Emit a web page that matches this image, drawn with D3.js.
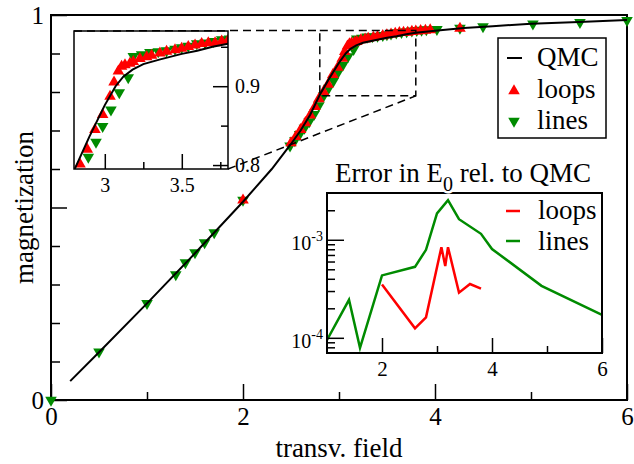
<!DOCTYPE html>
<html>
<head>
<meta charset="utf-8">
<script src="https://cdn.jsdelivr.net/npm/d3@7"></script>
<style>
body { margin: 0; background: #fff; }
svg text { font-family: "Liberation Serif", "DejaVu Serif", serif; fill: #000; }
</style>
</head>
<body>
<div id="chart"></div>
<script>

// QMC curve: magnetization vs transverse field
var qmcField = [0.2, 0.5, 1.0, 1.5, 2.0, 2.3, 2.5, 2.6, 2.7, 2.8, 2.9, 3.0, 3.07, 3.12, 3.18, 3.25, 3.36, 3.5, 3.6, 3.7, 3.8, 4.0, 4.3, 4.6, 5.0, 5.5, 6.0];
var qmcMag = [0.049, 0.124, 0.251, 0.381, 0.515, 0.600, 0.665, 0.700, 0.741, 0.793, 0.836, 0.876, 0.900, 0.912, 0.921, 0.928, 0.934, 0.941, 0.945, 0.950, 0.954, 0.959, 0.966, 0.971, 0.977, 0.982, 0.987];

// loops (red, up triangles)
var loopsField = [2.0, 2.5, 2.55, 2.6, 2.65, 2.7, 2.75, 2.79, 2.839, 2.886, 2.936, 2.986, 3.034, 3.06, 3.088, 3.109, 3.131, 3.163, 3.185, 3.228, 3.272, 3.304, 3.358, 3.401, 3.456, 3.499, 3.542, 3.586, 3.629, 3.672, 3.716, 3.759, 3.8, 3.85, 3.9, 3.95, 4.26];
var loopsMag = [0.519, 0.668, 0.684, 0.702, 0.72, 0.74, 0.762, 0.782, 0.801, 0.82, 0.845, 0.864, 0.887, 0.905, 0.919, 0.925, 0.927, 0.929, 0.931, 0.935, 0.937, 0.939, 0.942, 0.944, 0.946, 0.948, 0.95, 0.952, 0.954, 0.955, 0.955, 0.957, 0.958, 0.959, 0.96, 0.961, 0.965];

// lines (green, down triangles)
var linesField = [0, 0.5, 1.0, 1.3, 1.4, 1.5, 1.6, 1.7, 2.0, 2.49, 2.54, 2.59, 2.64, 2.69, 2.74, 2.79, 2.84, 2.893, 2.943, 2.986, 3.04, 3.094, 3.152, 3.185, 3.239, 3.293, 3.347, 3.401, 3.456, 3.499, 3.542, 3.597, 3.651, 3.705, 3.759, 3.81, 3.86, 3.91, 4.02, 4.26, 4.5, 5.02, 5.51, 6.0];
var linesMag = [0, 0.125, 0.251, 0.326, 0.357, 0.383, 0.409, 0.435, 0.519, 0.660, 0.674, 0.690, 0.706, 0.723, 0.742, 0.765, 0.79, 0.81, 0.829, 0.849, 0.87, 0.892, 0.911, 0.938, 0.94, 0.943, 0.944, 0.945, 0.947, 0.949, 0.951, 0.954, 0.955, 0.957, 0.959, 0.960, 0.961, 0.962, 0.963, 0.966, 0.970, 0.977, 0.981, 0.986];

// error in E0 relative to QMC
var errLinesField = [1.0, 1.4, 1.6, 2.0, 2.6, 2.8, 3.0, 3.2, 3.4, 3.8, 4.0, 4.9, 6.0];
var errLines = [9.5e-5, 2.44e-4, 7.9e-5, 4.33e-4, 5.3e-4, 7.9e-4, 1.86e-3, 2.54e-3, 1.62e-3, 1.15e-3, 8.05e-4, 3.39e-4, 1.71e-4];
var errLoopsField = [2.0, 2.6, 2.8, 3.08, 3.15, 3.2, 3.4, 3.6, 3.8];
var errLoops = [3.5e-4, 1.25e-4, 1.62e-4, 8.4e-4, 5.4e-4, 8.4e-4, 2.89e-4, 3.54e-4, 3.18e-4];

var red = "#ff0000", green = "#008b00";
var width = 634, height = 464;

var svg = d3.select("#chart").append("svg")
    .attr("width", width)
    .attr("height", height);

function zip(a, b) { return a.map(function (v, i) { return [v, b[i]]; }); }

function styleAxis(g, size) {
    g.attr("font-family", null).attr("font-size", size);
    g.select(".domain").remove();
    g.selectAll(".tick line").attr("stroke", "#000").attr("stroke-width", 1.5);
}

var up = d3.symbol().type(d3.symbolTriangle).size(58);

function drawMarkers(g, data, sx, sy, color, flip) {
    g.selectAll(null).data(data).enter().append("path")
        .attr("d", up)
        .attr("fill", color)
        .attr("transform", function (d) {
            return "translate(" + sx(d[0]) + "," + sy(d[1]) + ")" + (flip ? " rotate(180)" : "");
        });
}

// ---- main plot ----
var x = d3.scaleLinear().domain([0, 6]).range([51, 627]);
var y = d3.scaleLinear().domain([0, 1]).range([400, 15]);

svg.append("g").attr("transform", "translate(0,400)")
    .call(d3.axisBottom(x).tickValues([0, 2, 4, 6]).tickSize(-16).tickPadding(7).tickFormat(d3.format("d")))
    .call(styleAxis, 25);
svg.append("g").attr("transform", "translate(0,400)")
    .call(d3.axisBottom(x).tickValues([1, 3, 5]).tickSize(-8).tickFormat(""))
    .call(styleAxis, 25);
svg.append("g").attr("transform", "translate(51,0)")
    .call(d3.axisLeft(y).tickValues([0, 0.5, 1]).tickSize(-16).tickPadding(7)
        .tickFormat(function (d) { return d === 0.5 ? "" : d3.format("d")(d); }))
    .call(styleAxis, 25);
svg.append("g").attr("transform", "translate(51,0)")
    .call(d3.axisLeft(y).tickValues([0.1, 0.2, 0.3, 0.4, 0.6, 0.7, 0.8, 0.9]).tickSize(-9).tickFormat(""))
    .call(styleAxis, 25);

svg.append("rect")
    .attr("x", x(0)).attr("y", y(1))
    .attr("width", x(6) - x(0)).attr("height", y(0) - y(1))
    .attr("fill", "none").attr("stroke", "#000").attr("stroke-width", 2);

svg.append("text")
    .attr("transform", "translate(33," + (y(0) + y(1)) / 2 + ") rotate(-90)")
    .attr("text-anchor", "middle")
    .attr("font-size", 27)
    .text("magnetization");
svg.append("text")
    .attr("x", (x(0) + x(6)) / 2).attr("y", 457)
    .attr("text-anchor", "middle")
    .attr("font-size", 27)
    .text("transv. field");

var line = d3.line().x(function (d) { return x(d[0]); }).y(function (d) { return y(d[1]); });
var mainG = svg.append("g");
drawMarkers(mainG, zip(linesField, linesMag), x, y, green, true);
drawMarkers(mainG, zip(loopsField, loopsMag), x, y, red, false);
mainG.append("path").datum(zip(qmcField, qmcMag))
    .attr("d", line).attr("fill", "none").attr("stroke", "#000").attr("stroke-width", 2);

// zoom box
var zx0 = 2.8, zx1 = 3.8, zy0 = 0.79, zy1 = 0.96;
var dash = "8,5";
svg.append("rect")
    .attr("x", x(zx0)).attr("y", y(zy1))
    .attr("width", x(zx1) - x(zx0)).attr("height", y(zy0) - y(zy1))
    .attr("fill", "none").attr("stroke", "#000").attr("stroke-width", 1.5).attr("stroke-dasharray", dash);

// ---- inset 1: zoom ----
var xi = d3.scaleLinear().domain([2.8, 3.8]).range([74, 228]);
var yi = d3.scaleLinear().domain([0.795, 0.97]).range([169, 31]);

svg.append("line")
    .attr("x1", xi(2.8)).attr("y1", yi(0.97)).attr("x2", x(zx0)).attr("y2", y(zy1))
    .attr("stroke", "#000").attr("stroke-width", 1.5).attr("stroke-dasharray", dash);
svg.append("line")
    .attr("x1", xi(3.8)).attr("y1", yi(0.795)).attr("x2", x(zx1)).attr("y2", y(zy0))
    .attr("stroke", "#000").attr("stroke-width", 1.5).attr("stroke-dasharray", dash);

svg.append("clipPath").attr("id", "clip1").append("rect")
    .attr("x", 74).attr("y", 31).attr("width", 154).attr("height", 138);
var in1 = svg.append("g").attr("clip-path", "url(#clip1)");
drawMarkers(in1, zip(linesField, linesMag), xi, yi, green, true);
drawMarkers(in1, zip(loopsField, loopsMag), xi, yi, red, false);
in1.append("path").datum(zip(qmcField, qmcMag))
    .attr("d", d3.line().x(function (d) { return xi(d[0]); }).y(function (d) { return yi(d[1]); }))
    .attr("fill", "none").attr("stroke", "#000").attr("stroke-width", 2);

svg.append("g").attr("transform", "translate(0,169)")
    .call(d3.axisBottom(xi).tickValues([3, 3.5]).tickSize(-15).tickPadding(9).tickFormat(d3.format("")))
    .call(styleAxis, 20);
svg.append("g").attr("transform", "translate(0,169)")
    .call(d3.axisBottom(xi).tickValues([3.25, 3.75]).tickSize(-7).tickFormat(""))
    .call(styleAxis, 20);
svg.append("g").attr("transform", "translate(228,0)")
    .call(d3.axisRight(yi).tickValues([0.8, 0.9]).tickSize(-15).tickPadding(7).tickFormat(d3.format(".1f")))
    .call(styleAxis, 20);
svg.append("g").attr("transform", "translate(228,0)")
    .call(d3.axisRight(yi).tickValues([0.85, 0.95]).tickSize(-7).tickFormat(""))
    .call(styleAxis, 20);
svg.append("rect")
    .attr("x", 74).attr("y", 31).attr("width", 154).attr("height", 138)
    .attr("fill", "none").attr("stroke", "#000").attr("stroke-width", 1.5);

// ---- legend ----
var leg = svg.append("g");
leg.append("rect").attr("x", 498).attr("y", 38).attr("width", 108).attr("height", 100)
    .attr("fill", "#fff").attr("stroke", "#000").attr("stroke-width", 1.5);
leg.append("line").attr("x1", 507).attr("x2", 522).attr("y1", 58).attr("y2", 58)
    .attr("stroke", "#000").attr("stroke-width", 2);
leg.append("path").attr("d", up).attr("fill", red).attr("transform", "translate(514,91)");
leg.append("path").attr("d", up).attr("fill", green).attr("transform", "translate(514,121) rotate(180)");
leg.selectAll("text").data(["QMC", "loops", "lines"]).enter().append("text")
    .attr("x", 537).attr("y", function (d, i) { return 66 + i * 31.5; })
    .attr("font-size", 27)
    .text(function (d) { return d; });

// ---- inset 2: error ----
var xe = d3.scaleLinear().domain([1, 6]).range([327, 602]);
var ye = d3.scaleLog().domain([7e-5, 3e-3]).range([353, 193]);

svg.append("rect").attr("x", 327).attr("y", 193).attr("width", 275).attr("height", 160).attr("fill", "#fff");

svg.append("clipPath").attr("id", "clip2").append("rect")
    .attr("x", 327).attr("y", 193).attr("width", 275).attr("height", 160);
var in2 = svg.append("g").attr("clip-path", "url(#clip2)");
var eline = d3.line().x(function (d) { return xe(d[0]); }).y(function (d) { return ye(d[1]); });
in2.append("path").datum(zip(errLinesField, errLines))
    .attr("d", eline).attr("fill", "none").attr("stroke", green).attr("stroke-width", 2.5);
in2.append("path").datum(zip(errLoopsField, errLoops))
    .attr("d", eline).attr("fill", "none").attr("stroke", red).attr("stroke-width", 2.5);

svg.append("g").attr("transform", "translate(0,353)")
    .call(d3.axisBottom(xe).tickValues([2, 4, 6]).tickSize(-15).tickPadding(8).tickFormat(d3.format("d")))
    .call(styleAxis, 21);
svg.append("g").attr("transform", "translate(0,353)")
    .call(d3.axisBottom(xe).tickValues([3, 5]).tickSize(-7).tickFormat(""))
    .call(styleAxis, 21);
var eyAxis = svg.append("g").attr("transform", "translate(327,0)")
    .call(d3.axisLeft(ye).tickValues([1e-4, 1e-3]).tickSize(-17).tickPadding(4).tickFormat(""))
    .call(styleAxis, 20);
eyAxis.selectAll(".tick text").each(function (d) {
    var t = d3.select(this).attr("dy", null).attr("y", 10);
    t.append("tspan").text("10");
    t.append("tspan").attr("dy", -9).attr("font-size", 14).text(Math.round(Math.log10(d)));
});
svg.append("g").attr("transform", "translate(327,0)")
    .call(d3.axisLeft(ye).tickValues([8e-5, 9e-5, 2e-4, 3e-4, 4e-4, 5e-4, 6e-4, 7e-4, 8e-4, 9e-4, 2e-3]).tickSize(-8).tickFormat(""))
    .call(styleAxis, 20);
svg.append("rect").attr("x", 327).attr("y", 193).attr("width", 275).attr("height", 160)
    .attr("fill", "none").attr("stroke", "#000").attr("stroke-width", 2);

var title = svg.append("text")
    .attr("x", 463).attr("y", 182)
    .attr("text-anchor", "middle")
    .attr("font-size", 27)
    .attr("stroke", "#fff").attr("stroke-width", 5).attr("paint-order", "stroke");
title.append("tspan").text("Error in E");
title.append("tspan").attr("dy", 9).attr("font-size", 20).text("0");
title.append("tspan").attr("dy", -9).text(" rel. to QMC");

var eleg = svg.append("g");
eleg.append("line").attr("x1", 506).attr("x2", 520).attr("y1", 211).attr("y2", 211)
    .attr("stroke", red).attr("stroke-width", 2.5);
eleg.append("line").attr("x1", 506).attr("x2", 520).attr("y1", 241).attr("y2", 241)
    .attr("stroke", green).attr("stroke-width", 2.5);
eleg.append("text").attr("x", 538).attr("y", 219).attr("font-size", 27).text("loops");
eleg.append("text").attr("x", 538).attr("y", 250).attr("font-size", 27).text("lines");

</script>
</body>
</html>
